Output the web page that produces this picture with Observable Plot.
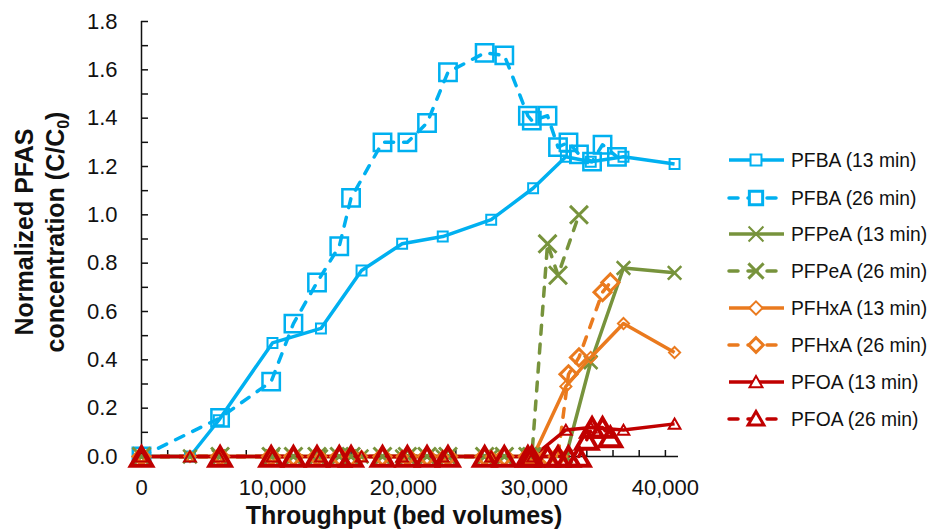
<!DOCTYPE html>
<html><head><meta charset="utf-8">
<script src="https://cdn.jsdelivr.net/npm/d3@7"></script>
<script src="https://cdn.jsdelivr.net/npm/@observablehq/plot@0.6"></script>
<style>
html,body{margin:0;padding:0;background:#fff;}
#chart{position:relative;width:932px;height:530px;overflow:hidden;}
</style></head><body><div id="chart"></div>
<script>
// ---- data ----
const t13 = [0, 3700, 5900, 10000, 13700, 16800, 19900, 23000, 26700, 29900, 32400, 34300, 36800, 40700];
const pfba13  = [0, 0, 0.15, 0.47, 0.53, 0.77, 0.88, 0.91, 0.98, 1.11, 1.24, 1.22, 1.24, 1.21];
const pfpea13 = [0, 0, 0, 0, 0, 0, 0, 0, 0, 0, 0, 0.39, 0.78, 0.76];
const pfhxa13 = [0, 0, 0, 0, 0, 0, 0, 0, 0, 0, 0.29, 0.41, 0.55, 0.43];
const pfoa13  = [0, 0, 0, 0, 0, 0, 0, 0, 0, 0, 0.11, 0.12, 0.11, 0.135];

const t26 = [0, 6000, 9900, 11600, 13400, 15100, 16000, 18400, 20300, 21800, 23400, 26200, 27700, 29500, 29800, 31000, 31800, 32600, 33400, 34000, 34400, 35200, 35800, 36300];
const pfba26  = [0, 0.16, 0.31, 0.55, 0.72, 0.87, 1.07, 1.30, 1.30, 1.38, 1.59, 1.67, 1.66, 1.41, 1.39, 1.41, 1.28, 1.30, 1.25, null, 1.22, 1.29, null, 1.24];
const pfpea26 = [0, 0, 0, 0, 0, 0, 0, 0, 0, 0, 0, 0, 0, 0, 0, 0.88, 0.75, null, 1.00, null, null, null, null, null];
const pfhxa26 = [0, 0, 0, 0, 0, 0, 0, 0, 0, 0, 0, 0, 0, 0, 0, 0, 0, 0.34, 0.41, null, null, 0.68, 0.72, null];
const pfoa26  = [0, 0, 0, 0, 0, 0, 0, 0, 0, 0, 0, 0, 0, 0, 0, 0, 0, 0, 0, 0.07, 0.12, 0.12, 0.08, null];

const seriesNames = ["PFBA (13 min)", "PFBA (26 min)", "PFPeA (13 min)", "PFPeA (26 min)",
                     "PFHxA (13 min)", "PFHxA (26 min)", "PFOA (13 min)", "PFOA (26 min)"];
const xTickLabels = [0, 10000, 20000, 30000, 40000];
const xMinorTicks = d3.range(2000, 40001, 2000);
const yTickLabels = [0, 0.2, 0.4, 0.6, 0.8, 1.0, 1.2, 1.4, 1.6, 1.8];
const yMinorTicks = d3.range(1, 19).map(d => d / 10);

// ---- styles ----
const BLUE = "#00B0F0", GREEN = "#77933C", ORANGE = "#EA7A1E", RED = "#C00000";
const DASH = "9,10";
const styles = [
  {xs: t13, ys: pfba13,  color: BLUE,   dash: null, symbol: "square",    r: 5.6, sw: 2,   dy: 0},
  {xs: t26, ys: pfba26,  color: BLUE,   dash: DASH, symbol: "square",    r: 9.8, sw: 2.5, dy: 0},
  {xs: t13, ys: pfpea13, color: GREEN,  dash: null, symbol: "times",     r: 6.2, sw: 2.5, dy: 0},
  {xs: t26, ys: pfpea26, color: GREEN,  dash: DASH, symbol: "times",     r: 8.2, sw: 3,   dy: 0},
  {xs: t13, ys: pfhxa13, color: ORANGE, dash: null, symbol: "diamond2",  r: 5.0, sw: 2,   dy: 0},
  {xs: t26, ys: pfhxa26, color: ORANGE, dash: DASH, symbol: "diamond2",  r: 7.7, sw: 3,   dy: 0},
  {xs: t13, ys: pfoa13,  color: RED,    dash: null, symbol: "triangle2", r: 5.6, sw: 2,   dy: 1.5},
  {xs: t26, ys: pfoa26,  color: RED,    dash: DASH, symbol: "triangle2", r: 10.2, sw: 4,  dy: 3}
];
function rows(xs, ys) {
  const out = [];
  xs.forEach((x, i) => { if (ys[i] != null) out.push({x, y: ys[i]}); });
  return out;
}

const W = 932, H = 530, ML = 141, MR = 254, MT = 21, MB = 74;
const frameW = W - ML - MR, frameH = H - MT - MB;
const AX = "#111";

const marks = [
  Plot.ruleX([0], {stroke: AX, strokeWidth: 1.5}),
  Plot.ruleY([0], {stroke: AX, strokeWidth: 1.5}),
  Plot.tickY(yMinorTicks, {y: d => d, insetRight: frameW - 7, stroke: AX, strokeWidth: 1.5}),
  Plot.tickX(xMinorTicks, {x: d => d, insetTop: frameH - 6, stroke: AX, strokeWidth: 1.5})
];
styles.forEach(s => {
  marks.push(Plot.line(rows(s.xs, s.ys), {x: "x", y: "y", stroke: s.color, strokeWidth: 3.5,
    strokeDasharray: s.dash, strokeLinecap: s.dash ? "round" : "butt", strokeLinejoin: "round"}));
});
styles.forEach(s => {
  marks.push(Plot.dot(rows(s.xs, s.ys), {x: "x", y: "y", symbol: () => s.symbol, r: s.r, dy: s.dy,
    stroke: s.color, strokeWidth: s.sw, fill: "none"}));
});
marks.push(Plot.axisX(xTickLabels, {tickFormat: d3.format(","), tickSize: 0, tickPadding: 23, fontSize: 22, label: null}));
marks.push(Plot.axisY(yTickLabels, {tickFormat: d3.format(".1f"), tickSize: 0, tickPadding: 24, fontSize: 22, label: null}));

const chart = Plot.plot({
  width: W, height: H,
  marginLeft: ML, marginRight: MR, marginTop: MT, marginBottom: MB,
  x: {domain: [0, 41000]},
  y: {domain: [0, 1.8]},
  symbol: {type: "identity"},
  style: {fontFamily: "'Liberation Sans', Arial, sans-serif", color: "#111", background: "#fff"},
  marks
});
document.getElementById("chart").appendChild(chart);

// ---- titles & legend ----
const svg = d3.select(chart);
const FONT = "'Liberation Sans', Arial, sans-serif";
svg.append("text").attr("transform", "translate(33,232) rotate(-90)")
  .attr("text-anchor", "middle").attr("font-family", FONT).attr("font-weight", "bold")
  .attr("font-size", 25).attr("fill", "#111").text("Normalized PFAS");
const t2 = svg.append("text").attr("transform", "translate(64,232) rotate(-90)")
  .attr("text-anchor", "middle").attr("font-family", FONT).attr("font-weight", "bold")
  .attr("font-size", 25).attr("fill", "#111");
t2.append("tspan").text("concentration (C/C");
t2.append("tspan").attr("dy", 5).attr("font-size", 16).text("0");
t2.append("tspan").attr("dy", -5).text(")");
svg.append("text").attr("x", 404).attr("y", 524).attr("text-anchor", "middle")
  .attr("font-family", FONT).attr("font-weight", "bold").attr("font-size", 25)
  .attr("fill", "#111").text("Throughput (bed volumes)");

const symMap = {square: d3.symbolSquare, times: d3.symbolTimes, diamond2: d3.symbolDiamond2, triangle2: d3.symbolTriangle2};
const legY = [160, 198, 234, 271, 308, 345, 382, 419];
styles.forEach((s, i) => {
  const g = svg.append("g").attr("transform", `translate(0,${legY[i]})`);
  g.append("line").attr("x1", 729).attr("x2", 784).attr("y1", 0).attr("y2", 0)
    .attr("stroke", s.color).attr("stroke-width", 3.5)
    .attr("stroke-dasharray", s.dash).attr("stroke-linecap", s.dash ? "round" : "butt");
  const lr = i % 2 ? Math.min(s.r * 0.85, 7.5) : Math.max(s.r * 1.1, 6);
  g.append("path").attr("transform", `translate(756,${s.dy ? 1.5 : 0})`)
    .attr("d", d3.symbol(symMap[s.symbol], Math.PI * lr * lr)())
    .attr("fill", "#fff").attr("stroke", s.color).attr("stroke-width", i % 2 ? 3 : 2);
  g.append("text").attr("x", 791).attr("y", 0).attr("dy", "0.36em").attr("text-anchor", "start")
    .attr("font-family", FONT).attr("font-size", 19.3).attr("fill", "#111").text(seriesNames[i]);
});
</script></body></html>
